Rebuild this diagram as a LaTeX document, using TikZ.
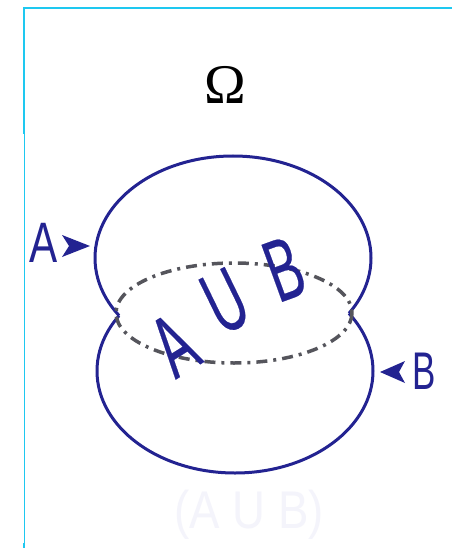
\documentclass[tikz,border=0pt]{standalone}
\usepackage{fontspec}
\newfontfamily\narrowA[FakeStretch=0.74]{Liberation Sans}
\newfontfamily\narrowB[FakeStretch=0.66]{Liberation Sans}
\newfontfamily\unionfont[FakeStretch=0.58,FakeBold=0.25]{Liberation Sans}
\newfontfamily\ghostfont[FakeStretch=0.86]{Liberation Sans}
\newfontfamily\omegafont{Liberation Serif}
\definecolor{setblue}{RGB}{35,35,145}
\definecolor{framecol}{RGB}{30,200,240}
\definecolor{lenscol}{RGB}{85,85,92}
\definecolor{ghostcol}{RGB}{244,244,251}
\tikzset{
  setline/.style={draw=setblue, line width=3pt},
  lensline/.style={draw=lenscol, line width=3.5pt, dash pattern=on 11pt off 6pt on 3pt off 6pt},
  framestroke/.style={draw=framecol},
  pointer/.style={fill=setblue, draw=none},
  lbl/.style={text=setblue, inner sep=0pt},
  unionletter/.style={lbl, font=\unionfont\fontsize{88}{88}\selectfont}
}
\begin{document}
\begin{tikzpicture}[x=1pt,y=-1pt]
\useasboundingbox (0,0) rectangle (452,548);
\fill[white] (0,0) rectangle (452,548);
% frame
\draw[framestroke, line width=2pt] (23,8) -- (452,8);
\draw[framestroke, line width=2pt] (24,8) -- (24,134);
\draw[framestroke, line width=1pt] (24,134) -- (24,548);
\draw[framestroke, line width=2pt] (24,543) -- (24,548);
% Omega
\node[inner sep=0pt, font=\omegafont\fontsize{56}{56}\selectfont] (omega) at (225,85) {Ω};
% sets: outer arcs only
\begin{scope}[even odd rule]
  \clip (0,0) rectangle (452,548) (235,371) ellipse [x radius=138, y radius=102];
  \draw[setline] (233,258) ellipse [x radius=138, y radius=102];
\end{scope}
\begin{scope}[even odd rule]
  \clip (0,0) rectangle (452,548) (233,258) ellipse [x radius=138, y radius=102];
  \draw[setline] (235,371) ellipse [x radius=138, y radius=102];
\end{scope}
% lens boundary
\draw[lensline] (234,313) ellipse [x radius=118, y radius=50];
% union text
\node[unionletter, rotate=32] (unionA) at (174,345) {A};
\node[unionletter, rotate=26] (unionU) at (225,301) {U};
\node[unionletter, rotate=20] (unionB) at (284,269) {B};
% labels
\node[lbl, font=\narrowA\fontsize{57}{57}\selectfont] (labA) at (44,243) {A};
\node[lbl, font=\narrowB\fontsize{53}{53}\selectfont] (labB) at (424,371) {B};
\coordinate (tipA) at (90,246);
\coordinate (tipB) at (380,372);
\fill[pointer] (tipA) -- (62,235) -- (69,246) -- (62,257) -- cycle;
\fill[pointer] (tipB) -- (405,361) -- (399,372) -- (405,383) -- cycle;
% faint caption
\node[inner sep=0pt, text=ghostcol, font=\ghostfont\fontsize{53}{53}\selectfont] (caption) at (249,515) {(A U B)};
\end{tikzpicture}
\end{document}
